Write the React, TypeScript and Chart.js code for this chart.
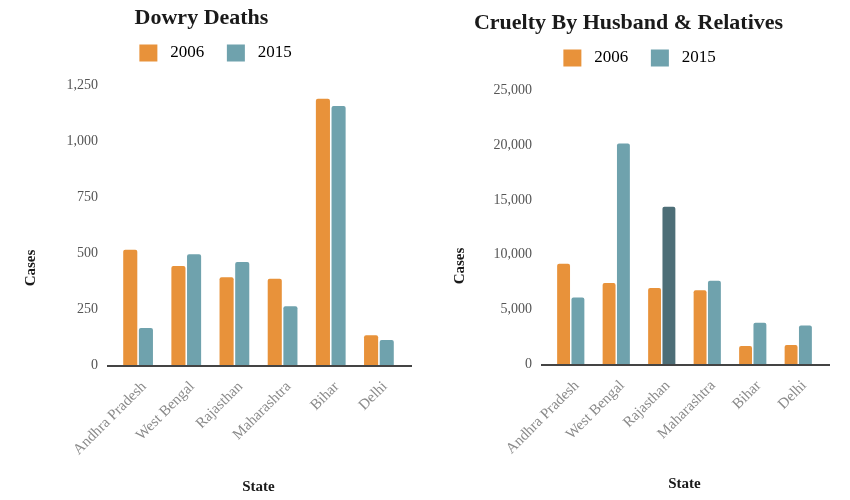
import { useEffect, useRef } from "react";
import { Chart, registerables } from "chart.js";

Chart.register(...registerables);

const states = ["Andhra Pradesh", "West Bengal", "Rajasthan", "Maharashtra", "Bihar", "Delhi"];
const years = ["2006", "2015"];

const dowry2006 = [515, 443, 392, 386, 1190, 133];
const dowry2015 = [165, 495, 461, 263, 1158, 112];
const dowryMax = 1250;
const dowryStep = 250;

const cruelty2006 = [9160, 7400, 6950, 6740, 1640, 1730];
const cruelty2015 = [6070, 20140, 14380, 7610, 3760, 3520];
const crueltyMax = 25000;
const crueltyStep = 5000;
// index of the highlighted 2015 bar in the cruelty chart (Rajasthan)
const crueltyHighlight = 2;

const ORANGE = "#E8923A";
const TEAL = "#6FA2AD";
const TEAL_DARK = "#4D6E77";
const SERIF = '"Liberation Serif", "Times New Roman", serif';
const NBSP = "\u00a0";

// draws the zero line a little wider than the plot area
const baselinePlugin = {
  id: "baseline",
  afterDatasetsDraw(chart: any) {
    const { ctx, chartArea, scales } = chart;
    const y = Math.round(scales.y.getPixelForValue(0)) + 1;
    ctx.save();
    ctx.strokeStyle = "#444";
    ctx.lineWidth = 2;
    ctx.beginPath();
    ctx.moveTo(chartArea.left - 7, y);
    ctx.lineTo(chartArea.right + 9, y);
    ctx.stroke();
    ctx.restore();
  },
};

// rotated "Cases" label beside the value axis
const yTitlePlugin = {
  id: "yTitle",
  afterDraw(chart: any) {
    const opts = chart.options.plugins.yTitle;
    if (!opts) return;
    const { ctx } = chart;
    ctx.save();
    ctx.translate(opts.x, opts.y);
    ctx.rotate(-Math.PI / 2);
    ctx.fillStyle = "#1a1a1a";
    ctx.font = `bold 15px ${SERIF}`;
    ctx.textAlign = "center";
    ctx.textBaseline = "middle";
    ctx.fillText(opts.text, 0, 0);
    ctx.restore();
  },
};

// extra room under the legend, and a horizontal nudge of its entries
const legendGapPlugin = {
  id: "legendGap",
  beforeInit(chart: any) {
    const legend = chart.legend;
    if (!legend) return;
    const cfg = () => chart.options.plugins.legendGap || {};
    const fit = legend.fit;
    legend.fit = function () {
      fit.call(this);
      this.height += cfg().gap ?? 0;
    };
    const draw = legend.draw;
    legend.draw = function () {
      const ctx = chart.ctx;
      ctx.save();
      ctx.translate(cfg().shift ?? 0, 0);
      draw.call(this);
      ctx.restore();
    };
  },
};

type PanelProps = {
  title: string;
  a: number[];
  b: number[];
  bColors: string[];
  max: number;
  step: number;
  padTop: number;
  yWidth: number;
  xHeight: number;
  padRight: number;
  gap: number;
  shift: number;
  catPct: number;
  left: number;
  width: number;
  casesX: number;
  casesY: number;
  stateBottom: number;
};

function Panel(p: PanelProps) {
  const ref = useRef<HTMLCanvasElement>(null);
  useEffect(() => {
    if (!ref.current) return;
    const chart = new Chart(ref.current, {
      type: "bar",
      data: {
        labels: states,
        datasets: [
          {
            label: years[0],
            data: p.a,
            backgroundColor: ORANGE,
            borderRadius: 2,
            borderSkipped: "start",
            categoryPercentage: p.catPct,
            barPercentage: 0.9,
          },
          {
            label: years[1],
            data: p.b,
            backgroundColor: p.bColors,
            borderRadius: 2,
            borderSkipped: "start",
            categoryPercentage: p.catPct,
            barPercentage: 0.9,
          },
        ],
      },
      options: {
        animation: false,
        responsive: false,
        maintainAspectRatio: false,
        events: [],
        layout: { padding: { top: p.padTop, right: p.padRight, left: 0, bottom: 0 } },
        plugins: {
          title: {
            display: true,
            text: p.title,
            color: "#1a1a1a",
            font: { family: SERIF, size: 22, weight: "bold" },
            padding: { top: 4, bottom: 3 },
          },
          legend: {
            display: true,
            labels: {
              boxWidth: 18,
              boxHeight: 17,
              color: "#333",
              padding: 10,
              font: { family: SERIF, size: 17 },
              // non-breaking spaces widen the gaps around each year label
              generateLabels: () =>
                years.map((y, i) => ({
                  text: NBSP + y + (i < years.length - 1 ? NBSP.repeat(3) : ""),
                  fillStyle: i === 0 ? ORANGE : TEAL,
                  strokeStyle: "transparent",
                  lineWidth: 0,
                  datasetIndex: i,
                  hidden: false,
                })),
            },
          },
          tooltip: { enabled: false },
          // @ts-ignore
          legendGap: { gap: p.gap, shift: p.shift },
          // @ts-ignore
          yTitle: { text: "Cases", x: p.casesX, y: p.casesY },
        },
        scales: {
          x: {
            grid: { display: false, drawTicks: false },
            border: { display: false },
            ticks: {
              color: "#8a8a8a",
              font: { family: SERIF, size: 15 },
              minRotation: 45,
              maxRotation: 45,
              padding: 13,
              labelOffset: 6,
            },
            title: {
              display: true,
              text: "State",
              color: "#1a1a1a",
              font: { family: SERIF, size: 15, weight: "bold" },
              padding: { top: 0, bottom: p.stateBottom },
            },
            afterFit(scale: any) {
              scale.height = p.xHeight;
            },
          },
          y: {
            min: 0,
            max: p.max,
            grid: { display: false, drawTicks: false },
            border: { display: false },
            ticks: {
              stepSize: p.step,
              color: "#555",
              font: { family: SERIF, size: 14 },
              padding: 16,
            },
            afterFit(scale: any) {
              scale.width = p.yWidth;
            },
          },
        },
      },
      plugins: [baselinePlugin, legendGapPlugin, yTitlePlugin],
    });
    return () => chart.destroy();
  }, []);
  return (
    <canvas
      ref={ref}
      width={p.width}
      height={500}
      style={{ position: "absolute", left: p.left, top: 0, width: p.width, height: 500 }}
    />
  );
}

export default function App() {
  const crueltyColors = cruelty2015.map((_, i) => (i === crueltyHighlight ? TEAL_DARK : TEAL));
  const dowryColors = dowry2015.map(() => TEAL);
  return (
    <div style={{ position: "fixed", left: 0, top: 0, width: 850, height: 500, background: "#fff" }}>
      <Panel
        title="Dowry Deaths"
        a={dowry2006}
        b={dowry2015}
        bColors={dowryColors}
        max={dowryMax}
        step={dowryStep}
        padTop={1}
        yWidth={114}
        xHeight={135}
        padRight={33}
        gap={14}
        shift={14}
        catPct={0.65}
        left={0}
        width={436}
        casesX={31}
        casesY={268}
        stateBottom={4}
      />
      <Panel
        title="Cruelty By Husband & Relatives"
        a={cruelty2006}
        b={cruelty2015}
        bColors={crueltyColors}
        max={crueltyMax}
        step={crueltyStep}
        padTop={6}
        yWidth={112}
        xHeight={136}
        padRight={29}
        gap={14}
        shift={11}
        catPct={0.63}
        left={436}
        width={414}
        casesX={24}
        casesY={266}
        stateBottom={7}
      />
    </div>
  );
}
